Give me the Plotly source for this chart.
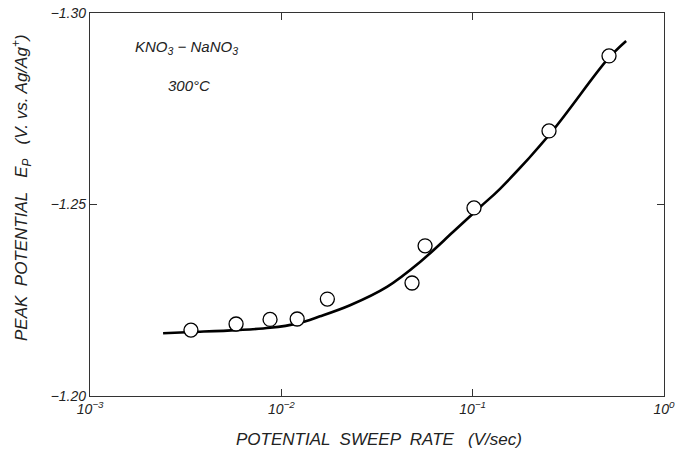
import plotly.graph_objects as go

# measured points
sweep_rate = [0.00337, 0.0058, 0.00873, 0.0121, 0.0174, 0.0482, 0.0564, 0.1016, 0.2506, 0.516]
peak_potential = [-1.2172, -1.2188, -1.2200, -1.2201, -1.2253, -1.2295, -1.2392, -1.2491, -1.2692, -1.2888]

# smooth fitted curve
curve_rate = [0.00241, 0.00341, 0.00586, 0.00873, 0.01208, 0.01592, 0.02286, 0.03565,
              0.0531, 0.0789, 0.1091, 0.139, 0.2535, 0.509, 0.634]
curve_potential = [-1.2164, -1.2167, -1.2172, -1.2178, -1.2189, -1.2208, -1.2237, -1.2285,
                   -1.2350, -1.2428, -1.2493, -1.2541, -1.2684, -1.2880, -1.2927]

x_tickvals = [0.001, 0.01, 0.1, 1]
x_ticktext = ["<i>10<sup>−3</sup></i>", "<i>10<sup>−2</sup></i>", "<i>10<sup>−1</sup></i>", "<i>10<sup>0</sup></i>"]
y_tickvals = [-1.30, -1.25, -1.20]
y_ticktext = ["<i>−1.30</i>", "<i>−1.25</i>", "<i>−1.20</i>"]

FONT = "Liberation Sans"
TXT = "#222222"

fig = go.Figure()
fig.add_trace(go.Scatter(x=curve_rate, y=curve_potential, mode="lines",
                         line=dict(color="black", width=2.6, shape="spline", smoothing=1.0),
                         hoverinfo="skip", showlegend=False))
fig.add_trace(go.Scatter(x=sweep_rate, y=peak_potential, mode="markers",
                         marker=dict(symbol="circle", size=14, color="white",
                                     line=dict(color="black", width=1.3)),
                         showlegend=False))

fig.update_layout(
    width=678, height=456,
    margin=dict(l=90, r=14, t=13, b=60, autoexpand=False),
    paper_bgcolor="white", plot_bgcolor="white",
    font=dict(family=FONT, color=TXT, size=14),
    xaxis=dict(type="log", range=[-3, 0], tickvals=x_tickvals, ticktext=x_ticktext,
               showgrid=False, zeroline=False, showline=True, linecolor="#333",
               linewidth=1.2, mirror="ticks", ticks="inside", ticklen=7,
               tickcolor="#333", tickfont=dict(family=FONT, size=14, color=TXT)),
    yaxis=dict(range=[-1.20, -1.30], tickvals=y_tickvals, ticktext=y_ticktext,
               showgrid=False, zeroline=False, showline=True, linecolor="#333",
               linewidth=1.2, mirror="ticks", ticks="inside", ticklen=7,
               tickcolor="#333", tickfont=dict(family=FONT, size=14, color=TXT)),
)

def ann(text, px, py, size=15, angle=0):
    fig.add_annotation(text=text, xref="paper", yref="paper",
                       x=(px - 90) / 574, y=(396 - py) / 383,
                       xanchor="center", yanchor="middle", textangle=angle,
                       showarrow=False, font=dict(family=FONT, size=size, color=TXT))

ann("<i>POTENTIAL  SWEEP  RATE   (V/sec)</i>", 379, 439, size=17)
ann("<i>PEAK  POTENTIAL   E<sub>P</sub>   (V. vs. Ag/Ag<sup>+</sup>)</i>", 22, 188, size=17, angle=-90)
ann("<i>KNO<sub>3</sub> − NaNO<sub>3</sub></i>", 186, 47, size=15)
ann("<i>300°C</i>", 189, 85, size=15)

fig.write_html("out.html")
